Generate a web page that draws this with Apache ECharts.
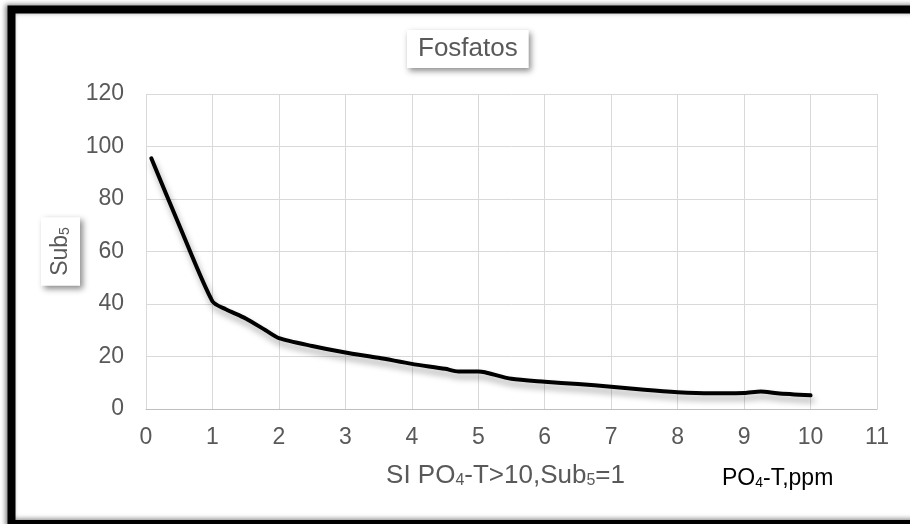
<!DOCTYPE html>
<html>
<head>
<meta charset="utf-8">
<script src="https://cdn.jsdelivr.net/npm/echarts@6/dist/echarts.min.js"></script>
<style>
html,body{margin:0;padding:0;background:#fff;}
#c{width:910px;height:524px;}
</style>
</head>
<body>
<div id="c"></div>
<script>
// Data
var xValues = [0.08, 0.5, 1.0, 1.2, 1.5, 1.8, 2.0, 2.5, 3.0, 3.5, 4.0, 4.5, 4.7, 5.0, 5.1, 5.5, 6.0, 6.5, 7.0, 7.5, 8.0, 8.5, 9.0, 9.25, 9.5, 10.0];
var subValues = [95.5, 70, 41, 38, 34.5, 30, 27, 24, 21.5, 19.5, 17.2, 15.3, 14.3, 14.3, 14.0, 11.5, 10.4, 9.5, 8.5, 7.3, 6.4, 6.0, 6.1, 6.7, 6.0, 5.2];
var xTicks = [0, 1, 2, 3, 4, 5, 6, 7, 8, 9, 10, 11];
var yTicks = [0, 20, 40, 60, 80, 100, 120];
var titleText = 'Fosfatos';

var seriesData = xValues.map(function (x, i) { return [x, subValues[i]]; });
var grey = '#595959';
var font = 'Liberation Sans, Arial, sans-serif';

var chart = echarts.init(document.getElementById('c'), null, {renderer: 'canvas'});
chart.setOption({
  animation: false,
  backgroundColor: '#fff',
  textStyle: {fontFamily: font},
  title: {
    text: titleText,
    left: 407,
    top: 30,
    padding: [6, 11, 6, 11],
    backgroundColor: '#fff',
    shadowBlur: 6,
    shadowColor: 'rgba(0,0,0,0.45)',
    shadowOffsetX: 2,
    shadowOffsetY: 3,
    textStyle: {fontSize: 26, fontWeight: 'normal', color: grey, fontFamily: font}
  },
  grid: {left: 146, right: 33, top: 94, bottom: 115},
  xAxis: {
    type: 'value',
    min: xTicks[0],
    max: xTicks[xTicks.length - 1],
    interval: 1,
    axisLine: {show: true, lineStyle: {color: '#bfbfbf', width: 1}},
    axisTick: {show: false},
    splitLine: {show: true, lineStyle: {color: '#d9d9d9', width: 1}},
    axisLabel: {fontSize: 23, color: grey, margin: 17, fontFamily: font},
    name: 'SI PO{s|4}-T>10,Sub{s|5}=1',
    nameLocation: 'middle',
    nameGap: 54,
    nameMoveOverlap: false,
    nameTextStyle: {
      fontSize: 26, color: grey, fontFamily: font, padding: [0, 12, 0, 0],
      rich: {s: {fontSize: 16, color: grey, verticalAlign: 'bottom', padding: [10, 0, 0, 0], fontFamily: font}}
    }
  },
  yAxis: {
    type: 'value',
    min: yTicks[0],
    max: yTicks[yTicks.length - 1],
    interval: 20,
    axisLine: {show: false},
    axisTick: {show: false},
    splitLine: {show: true, lineStyle: {color: '#d9d9d9', width: 1}},
    axisLabel: {fontSize: 23, color: grey, margin: 22, fontFamily: font},
    name: 'Sub{s|5}',
    nameLocation: 'middle',
    nameRotate: 90,
    nameGap: 66,
    nameMoveOverlap: false,
    nameTextStyle: {
      fontSize: 23, color: grey, fontFamily: font,
      backgroundColor: '#fff',
      padding: [8, 10, 8, 10],
      shadowBlur: 6,
      shadowColor: 'rgba(0,0,0,0.45)',
      shadowOffsetX: 3,
      shadowOffsetY: 3,
      rich: {s: {fontSize: 14, color: grey, verticalAlign: 'bottom', padding: [9, 0, 0, 0], fontFamily: font}}
    }
  },
  series: [{
    type: 'line',
    data: seriesData,
    smooth: 0.25,
    showSymbol: false,
    symbol: 'none',
    lineStyle: {
      color: '#000', width: 4, cap: 'round', join: 'round',
      shadowColor: 'rgba(0,0,0,0.35)', shadowBlur: 6, shadowOffsetX: 2, shadowOffsetY: 5
    }
  }],
  graphic: [
    {
      type: 'rect',
      z: 100,
      shape: {x: 11.5, y: 9.5, width: 930, height: 514.5},
      style: {fill: null, stroke: '#000', lineWidth: 8, shadowBlur: 5, shadowColor: 'rgba(0,0,0,0.5)', shadowOffsetX: -2, shadowOffsetY: -1}
    },
    {
      type: 'text',
      left: 722,
      top: 467,
      style: {
        text: 'PO{s|4}-T,ppm',
        fontSize: 23, fill: '#000', fontFamily: font,
        rich: {s: {fontSize: 14, fill: '#000', verticalAlign: 'bottom', padding: [9, 0, 0, 0], fontFamily: font}}
      }
    }
  ]
});
</script>
</body>
</html>
